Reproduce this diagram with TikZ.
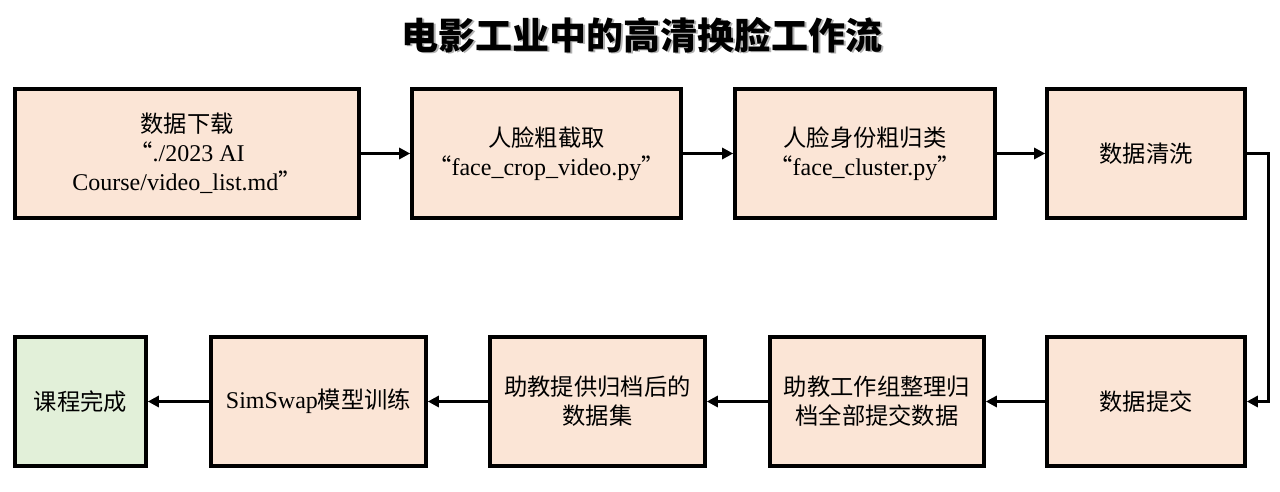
\documentclass[tikz,border=0pt]{standalone}
\usepackage{fontspec}
\setmainfont{Liberation Serif}
\newfontfamily\cjk[Scale=0.97]{Noto Sans CJK SC}
\newfontfamily\cjktitle{Noto Sans CJK SC}
\usetikzlibrary{arrows.meta}
\definecolor{peach}{HTML}{FBE5D6}
\definecolor{lgreen}{HTML}{E2F0D9}
\tikzset{
  box/.style={draw=black, line width=3.6pt, fill=peach, rectangle, align=center,
    minimum height=129pt, inner sep=2pt, font=\fontsize{24}{29}\selectfont},
  link/.style={line width=3pt, -{Triangle[length=11pt,width=11pt]}},
}
\begin{document}
\begin{tikzpicture}[x=1pt,y=-1pt]
\useasboundingbox (0,0) rectangle (1280,491);
\node[text=gray!60, font=\cjktitle\bfseries\fontsize{37}{42}\selectfont] (titleshadow) at (643.5,36.5) {电影工业中的高清换脸工作流};
\node[font=\cjktitle\bfseries\fontsize{37}{42}\selectfont] (title) at (642,35) {电影工业中的高清换脸工作流};

\node[box, minimum width=344pt] (b1) at (187,153.5) {{\cjk 数据下载}\\{\cjk “}./2023 AI\\Course/video\_list.md{\cjk ”}};
\node[box, minimum width=269pt] (b2) at (546.5,153.5) {{\cjk 人脸粗截取}\\{\cjk “}face\_crop\_video.py{\cjk ”}};
\node[box, minimum width=260pt] (b3) at (865,153.5) {{\cjk 人脸身份粗归类}\\{\cjk “}face\_cluster.py{\cjk ”}};
\node[box, minimum width=198pt] (b4) at (1146,153.5) {\cjk 数据清洗};

\node[box, minimum width=198pt] (b5) at (1146,401.5) {\cjk 数据提交};
\node[box, minimum width=214pt] (b6) at (877,401.5) {\cjk 助教工作组整理归\\\cjk 档全部提交数据};
\node[box, minimum width=215pt] (b7) at (597.5,401.5) {\cjk 助教提供归档后的\\\cjk 数据集};
\node[box, minimum width=215pt] (b8) at (318.5,401.5) {SimSwap{\cjk 模型训练}};
\node[box, minimum width=131pt, fill=lgreen] (b9) at (80.5,401.5) {\cjk 课程完成};

\draw[link] (b1) -- (b2);
\draw[link] (b2) -- (b3);
\draw[link] (b3) -- (b4);
\draw[link] (b4.east) -- ++(22,0) |- (b5.east);
\draw[link] (b5) -- (b6);
\draw[link] (b6) -- (b7);
\draw[link] (b7) -- (b8);
\draw[link] (b8) -- (b9);
\end{tikzpicture}
\end{document}
